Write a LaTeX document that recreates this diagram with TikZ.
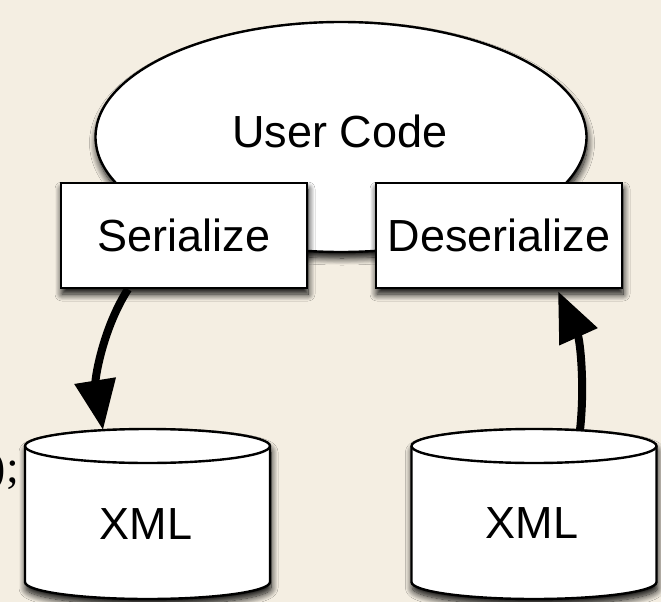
\documentclass[tikz,border=0pt]{standalone}
\usepackage{fontspec}
\setmainfont{Liberation Sans}
\newfontfamily\serifface{Liberation Serif}
\usetikzlibrary{shapes.geometric,arrows.meta,calc,shadows.blur}
\definecolor{paper}{RGB}{244,238,226}
\tikzset{
  shape line/.style={draw=black, line width=2.4pt, fill=white},
  soft shadow/.style={blur shadow={shadow xshift=1pt, shadow yshift=-6pt,
      shadow blur radius=7pt, shadow opacity=100, shadow blur steps=12}},
  bigtext/.style={font=\fontsize{45}{54}\selectfont},
  stepbox/.style={shape line, soft shadow, rectangle, minimum width=246pt,
      minimum height=105pt, inner sep=0pt, bigtext},
  blob/.style={shape line, soft shadow, ellipse, minimum width=491pt,
      minimum height=230pt, inner sep=0pt, bigtext},
  dbtext/.style={bigtext, inner sep=0pt},
  flow/.style={line width=8pt, -{Triangle[length=50pt,width=40pt]}},
  drum/.pic={
    \path[shape line, soft shadow] (-122.5,-68) -- (-122.5,68)
      arc[start angle=180, end angle=360, x radius=122.5pt, y radius=17pt]
      -- (122.5,-68)
      arc[start angle=0, end angle=180, x radius=122.5pt, y radius=17pt]
      -- cycle;
    \draw[line width=2.4pt] (-122.5,-68)
      arc[start angle=180, end angle=360, x radius=122.5pt, y radius=17pt];
  },
}
\begin{document}
\begin{tikzpicture}[x=1pt, y=-1pt]
  % paper background
  \fill[paper] (0,0) rectangle (661,602);
  \useasboundingbox (0,0) rectangle (661,602);

  % stray code fragment at the left edge
  \node[font=\serifface\fontsize{46}{55}\selectfont, anchor=base east,
        inner sep=0pt] (frag) at (19,482) {);};

  % user code
  \node[blob] (user) at (341,137) {};
  \node[dbtext] (usertext) at (340,131) {User Code};

  % serializer boxes
  \node[stepbox] (ser) at (184,235.5) {Serialize};
  \node[stepbox] (deser) at (499,235.5) {Deserialize};

  % XML stores
  \pic at (147.5,514) {drum};
  \pic at (534,514) {drum};
  \node[dbtext] (xmlL) at (146,524) {XML};
  \node[dbtext] (xmlR) at (532,523) {XML};
  \coordinate (topL) at (103,430);
  \coordinate (topR) at (580,430);

  % data flow
  \draw[flow] ($(ser.south)+(-56,0)$) .. controls (102,330) and (95,380) .. (topL);
  \draw[flow] (topR) .. controls (585,385) and (580,340) .. ($(deser.south)+(59,2)$);
\end{tikzpicture}
\end{document}
